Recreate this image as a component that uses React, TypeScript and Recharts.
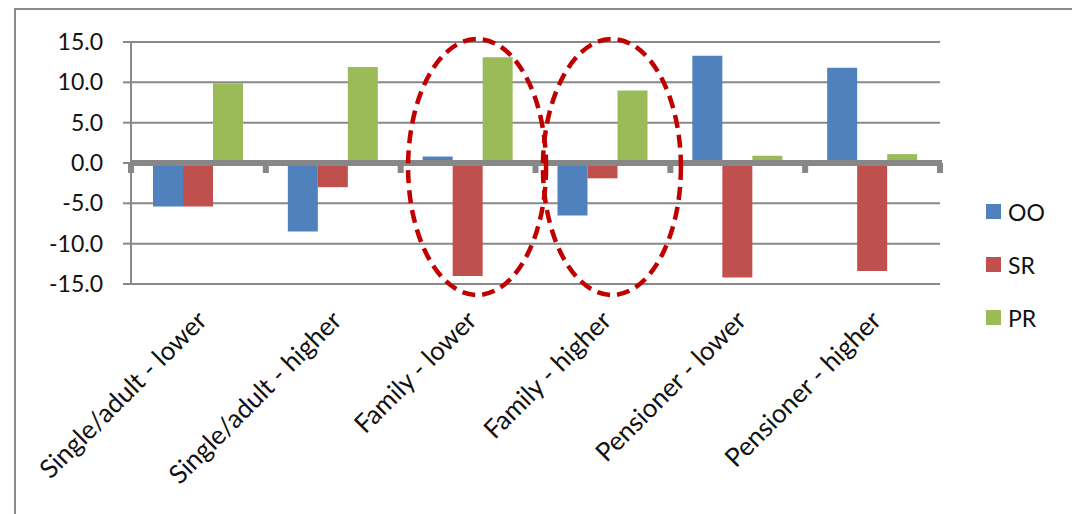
import { BarChart, Bar, XAxis, YAxis, CartesianGrid, Legend, ReferenceLine, ReferenceDot } from 'recharts';

const categories = [
  'Single/adult - lower',
  'Single/adult - higher',
  'Family - lower',
  'Family - higher',
  'Pensioner - lower',
  'Pensioner - higher',
];
const ooValues = [-5.4, -8.5, 0.8, -6.5, 13.3, 11.8];
const srValues = [-5.4, -3.0, -14.0, -1.9, -14.2, -13.4];
const prValues = [9.9, 11.9, 13.1, 9.0, 0.9, 1.1];
const yTicks = [-15, -10, -5, 0, 5, 10, 15];
const highlighted = ['Family - lower', 'Family - higher'];

const series = [
  { key: 'OO', color: '#4F81BD' },
  { key: 'SR', color: '#C0504D' },
  { key: 'PR', color: '#9BBB59' },
];

const chartData = categories.map((name, i) => ({
  name,
  OO: ooValues[i],
  SR: srValues[i],
  PR: prValues[i],
}));

const FONT = 'Lato, "Open Sans", sans-serif';
const GRID = '#898989';

const CategoryTick = ({ x, y, payload }: any) => (
  <g transform={`translate(${x + 10},${y + 30})`}>
    <text x={0} y={0} textAnchor="end" transform="rotate(-45)" fontSize={26} fontFamily={FONT} fill="#111">
      {payload.value}
    </text>
  </g>
);

// thick zero line with little category ticks hanging below it
const ZeroLine = (props: any) => {
  const { x1, y1, x2 } = props;
  const step = (x2 - x1) / categories.length;
  const marks = [];
  for (let i = 0; i <= categories.length; i++) {
    marks.push(<rect key={i} x={x1 + i * step - 3} y={y1} width={6} height={10} fill="#878787" />);
  }
  return (
    <g>
      <line x1={x1} y1={y1} x2={x2 + 2} y2={y1} stroke="#878787" strokeWidth={6} />
      {marks}
    </g>
  );
};

const Ellipse = ({ cx, cy }: any) => (
  <ellipse
    cx={cx + 9}
    cy={cy + 4}
    rx={69}
    ry={128}
    fill="none"
    stroke="#C00000"
    strokeWidth={4.5}
    strokeDasharray="13 7"
  />
);

const order = series.map((s) => s.key);

const LegendContent = ({ payload }: any) => {
  const items = [...(payload || [])].sort((a: any, b: any) => order.indexOf(a.value) - order.indexOf(b.value));
  return (
    <div style={{ fontFamily: FONT, fontSize: 23, color: '#111' }}>
      {items.map((p: any) => (
        <div key={p.value} style={{ display: 'flex', alignItems: 'center', height: 53 }}>
          <span style={{ display: 'inline-block', width: 15, height: 15, background: p.color, marginRight: 7 }} />
          <span>{p.value}</span>
        </div>
      ))}
    </div>
  );
};

export default function App() {
  return (
    <div style={{ position: 'absolute', left: 0, top: 0, width: 1072, height: 514, overflow: 'hidden', background: '#fff' }}>
      <div
        style={{
          position: 'absolute',
          left: 14,
          top: 8,
          width: 1200,
          height: 700,
          borderLeft: '2px solid #8c8c8c',
          borderTop: '2px solid #8c8c8c',
        }}
      />
      <BarChart
        width={1072}
        height={514}
        data={chartData}
        margin={{ top: 42, right: 132, bottom: 30, left: 0 }}
        barGap={0}
        barSize={30}
        style={{ position: 'absolute', left: 0, top: 0 }}
      >
        <CartesianGrid vertical={false} stroke={GRID} strokeWidth={2} />
        <XAxis dataKey="name" axisLine={false} tickLine={false} interval={0} height={200} tick={<CategoryTick />} />
        <YAxis
          width={131}
          domain={[-15, 15]}
          ticks={yTicks}
          tickFormatter={(v: number) => v.toFixed(1)}
          axisLine={{ stroke: GRID, strokeWidth: 2 }}
          tickLine={{ stroke: GRID, strokeWidth: 2 }}
          tickSize={8}
          tickMargin={20}
          tick={{ fontSize: 23, fontFamily: FONT, fill: '#111' }}
        />
        {series.map((s) => (
          <Bar key={s.key} dataKey={s.key} fill={s.color} isAnimationActive={false} />
        ))}
        <ReferenceLine y={0} shape={<ZeroLine />} />
        {highlighted.map((c) => (
          <ReferenceDot key={c} x={c} y={0} shape={<Ellipse />} />
        ))}
        <Legend
          layout="vertical"
          align="center"
          verticalAlign="middle"
          content={<LegendContent />}
          wrapperStyle={{ left: 986, top: 185, width: 80 }}
        />
      </BarChart>
    </div>
  );
}
